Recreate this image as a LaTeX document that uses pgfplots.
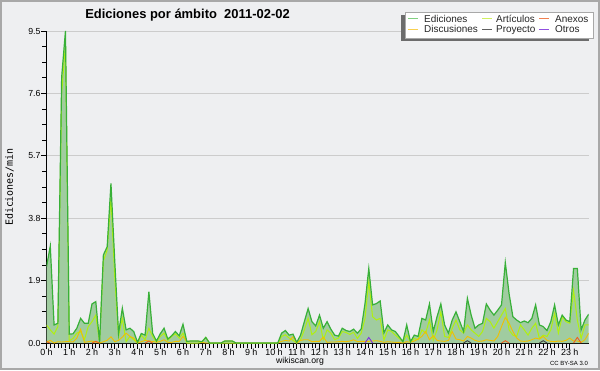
\documentclass[border=0pt]{standalone}
\usepackage{pgfplots}
\pgfplotsset{compat=1.18}
\usepackage{pgfplotstable}
\usepackage{fontspec}
\setmainfont{Liberation Sans}
\newfontfamily\monofont{DejaVu Sans Mono}
\definecolor{bgc}{HTML}{EEEFF1}
\definecolor{bordc}{HTML}{A8A8A8}
\definecolor{gridc}{HTML}{CCCCCC}
\definecolor{edfill}{RGB}{160,204,160}
\definecolor{edline}{RGB}{56,176,56}
\definecolor{artc}{RGB}{176,240,16}
\definecolor{disc}{RGB}{240,192,0}
\definecolor{anxc}{RGB}{240,96,32}
\definecolor{proc}{RGB}{64,64,64}
\definecolor{otrc}{RGB}{128,48,224}
\definecolor{Led}{RGB}{128,208,128}
\definecolor{Lart}{RGB}{208,240,96}
\definecolor{Lanx}{RGB}{240,128,80}
\definecolor{Ldis}{RGB}{248,208,80}
\definecolor{Lpro}{RGB}{96,96,96}
\definecolor{Lotr}{RGB}{144,80,224}

\pgfplotstableread{
i ed art dis
0 2.32 0.55 0.03
1 2.95 0.40 0.08
2 0.55 0.27 0.00
3 0.60 0.50 0.04
4 8.10 7.60 0.03
5 9.50 9.10 0.04
6 0.27 0.07 0.04
7 0.28 0.14 0.03
8 0.45 0.30 0.15
9 0.75 0.35 0.42
10 0.60 0.10 0.02
11 0.60 0.50 0.04
12 1.19 0.65 0.06
13 1.26 0.85 0.03
14 0.02 0.00 0.00
15 2.68 2.50 0.04
16 2.93 2.83 0.08
17 4.86 4.40 0.19
18 2.50 2.00 0.04
19 0.29 0.20 0.08
20 1.06 0.75 0.18
21 0.40 0.04 0.30
22 0.45 0.20 0.20
23 0.35 0.10 0.15
24 0.02 0.00 0.00
25 0.29 0.24 0.04
26 0.24 0.10 0.08
27 1.56 0.45 0.06
28 0.29 0.20 0.05
29 0.06 0.03 0.02
30 0.28 0.20 0.05
31 0.45 0.30 0.10
32 0.12 0.08 0.02
33 0.22 0.20 0.02
34 0.35 0.28 0.05
35 0.22 0.15 0.05
36 0.57 0.30 0.20
37 0.05 0.00 0.05
38 0.06 0.00 0.06
39 0.06 0.00 0.06
40 0.06 0.00 0.06
41 0.04 0.02 0.02
42 0.17 0.17 0.00
43 0 0 0
44 0 0 0
45 0 0 0
46 0 0 0
47 0.06 0 0.06
48 0.06 0 0.06
49 0.06 0 0.06
50 0 0 0
51 0 0 0
52 0 0 0
53 0 0 0
54 0 0 0
55 0 0 0
56 0 0 0
57 0 0 0
58 0 0 0
59 0 0 0
60 0 0 0
61 0 0 0
62 0.30 0.20 0.05
63 0.38 0.25 0.08
64 0.24 0.15 0.06
65 0.27 0.08 0.19
66 0.02 0.00 0.00
67 0.24 0.10 0.08
68 0.65 0.40 0.10
69 1.05 0.75 0.10
70 0.65 0.25 0.04
71 0.52 0.35 0.05
72 0.85 0.65 0.05
73 0.45 0.10 0.18
74 0.65 0.40 0.02
75 0.42 0.30 0.03
76 0.24 0.10 0.03
77 0.21 0.15 0.04
78 0.45 0.35 0.05
79 0.38 0.32 0.04
80 0.35 0.26 0.06
81 0.42 0.33 0.10
82 0.30 0.14 0.04
83 0.43 0.30 0.05
84 1.20 0.75 0.05
85 2.27 1.87 0.05
86 1.16 0.80 0.06
87 1.20 0.70 0.07
88 1.28 0.75 0.05
89 0.31 0.09 0.02
90 0.55 0.40 0.04
91 0.40 0.35 0.03
92 0.35 0.24 0.02
93 0.20 0.14 0.02
94 0.04 0.04 0.00
95 0.55 0.24 0.04
96 0.04 0.03 0.02
97 0.24 0.14 0.06
98 0.20 0.10 0.12
99 0.75 0.40 0.20
100 0.70 0.30 0.35
101 1.19 0.70 0.10
102 0.35 0.09 0.22
103 0.80 0.40 0.08
104 1.19 0.95 0.06
105 0.55 0.20 0.05
106 0.30 0.17 0.08
107 0.70 0.45 0.35
108 0.95 0.70 0.12
109 0.65 0.40 0.10
110 0.35 0.30 0.06
111 1.36 0.55 0.20
112 0.85 0.40 0.15
113 0.45 0.30 0.08
114 0.55 0.20 0.05
115 0.60 0.35 0.06
116 1.19 0.75 0.10
117 1.00 0.65 0.08
118 0.85 0.45 0.06
119 1.00 0.65 0.20
120 1.16 0.85 0.50
121 2.45 1.05 0.78
122 1.50 0.40 0.60
123 0.80 0.24 0.35
124 0.70 0.20 0.15
125 0.62 0.55 0.06
126 0.67 0.40 0.05
127 0.62 0.24 0.06
128 0.75 0.45 0.10
129 1.16 0.60 0.15
130 0.55 0.14 0.12
131 0.50 0.24 0.20
132 0.38 0.20 0.08
133 0.65 0.40 0.05
134 1.16 0.90 0.04
135 0.55 0.30 0.06
136 0.85 0.80 0.05
137 0.70 0.65 0.08
138 0.65 0.60 0.15
139 2.27 1.60 0.06
140 2.27 0.70 0.06
141 0.40 0.14 0.02
142 0.70 0.55 0.10
143 0.88 0.55 0.30
}\main

\pgfplotstableread{
i v
0 0.04
1 0
nan nan
12 0
13 0.05
14 0
nan nan
26 0
27 0.06
28 0
nan nan
120 0
121 0.07
122 0
nan nan
139 0
140 0.17
141 0
}\anexos

\pgfplotstableread{
i v
110 0
111 0.07
112 0
nan nan
130 0
131 0.07
132 0
}\proyecto

\pgfplotstableread{
i v
84 0
85 0.17
86 0
}\otros

\begin{document}
\begin{tikzpicture}[x=1bp,y=1bp]
\fill[bgc] (0,0) rectangle (600,370);
\draw[bordc, line width=2bp] (1,1) rectangle (599,369);

\begin{axis}[
  at={(46.5bp,27bp)}, anchor=south west,
  scale only axis, width=542.2bp, height=312bp,
  xmin=0, xmax=143, ymin=0, ymax=9.5,
  axis x line*=bottom, axis y line*=left,
  axis line style={black, line width=0.8bp},
  xtick={0,6,...,138},
  xticklabels={0 h,1 h,2 h,3 h,4 h,5 h,6 h,7 h,8 h,9 h,10 h,11 h,12 h,13 h,14 h,15 h,16 h,17 h,18 h,19 h,20 h,21 h,22 h,23 h},
  minor x tick num=5,
  ytick={0,1.9,3.8,5.7,7.6,9.5},
  yticklabels={0.0,1.9,3.8,5.7,7.6,9.5},
  minor y tick num=3,
  tick align=outside,
  major tick length=5.5bp, minor tick length=4.5bp,
  tick style={black, line width=0.7bp},
  ymajorgrids, grid style={gridc, line width=0.8bp},
  xticklabel style={font=\fontsize{9}{9}\selectfont, inner sep=0pt, yshift=-0.3bp},
  yticklabel style={font=\fontsize{8.8}{9}\selectfont, inner sep=0.3bp},
  unbounded coords=jump,
]
\addplot[fill=edfill, draw=none] table[x=i,y=ed]{\main} \closedcycle;
\addplot[artc, line width=1bp] table[x=i,y=art]{\main};
\addplot[disc, line width=0.9bp] table[x=i,y=dis]{\main};
\addplot[anxc, line width=0.9bp] table[x=i,y=v]{\anexos};
\addplot[proc, line width=0.9bp] table[x=i,y=v]{\proyecto};
\addplot[otrc, line width=0.9bp] table[x=i,y=v]{\otros};
\addplot[edline, line width=1.2bp] table[x=i,y=ed]{\main};
\end{axis}

% title and labels
\node[anchor=base, font=\bfseries\fontsize{13}{14}\selectfont, inner sep=0pt] at (187.5,351.7) {Ediciones por ámbito\ \ 2011-02-02};
\node[rotate=90, font=\monofont\fontsize{10}{11}\selectfont, inner sep=0pt] at (9.5,183) {Ediciones/min};
\node[anchor=base, font=\fontsize{8.7}{9}\selectfont, inner sep=0pt] at (300,6.5) {wikiscan.org};
\node[anchor=base, font=\fontsize{6}{7}\selectfont, inner sep=0pt] at (569,5) {CC BY-SA 3.0};

% legend
\fill[gray!85!black] (401,329) rectangle (589,355);
\filldraw[fill=white, draw=bordc, line width=0.5bp] (405,332) rectangle (593,358);
\begin{scope}[line width=1bp]
\draw[Led]  (408,351) -- (418,351);
\draw[Ldis] (408,340.7) -- (418,340.7);
\draw[Lart] (482,351) -- (492,351);
\draw[Lpro] (482,340.7) -- (492,340.7);
\draw[Lanx] (539,351) -- (549,351);
\draw[Lotr] (539,340.7) -- (549,340.7);
\end{scope}
\begin{scope}[every node/.style={anchor=base west, inner sep=0pt, font=\fontsize{10}{10}\selectfont, text=black!85}]
\node at (424,347.3) {Ediciones};
\node at (424,337.3) {Discusiones};
\node at (496,347.3) {Artículos};
\node at (496,337.3) {Proyecto};
\node at (555,347.3) {Anexos};
\node at (555,337.3) {Otros};
\end{scope}

\pgfresetboundingbox
\path (0,0) rectangle (600,370);
\end{tikzpicture}
\end{document}
